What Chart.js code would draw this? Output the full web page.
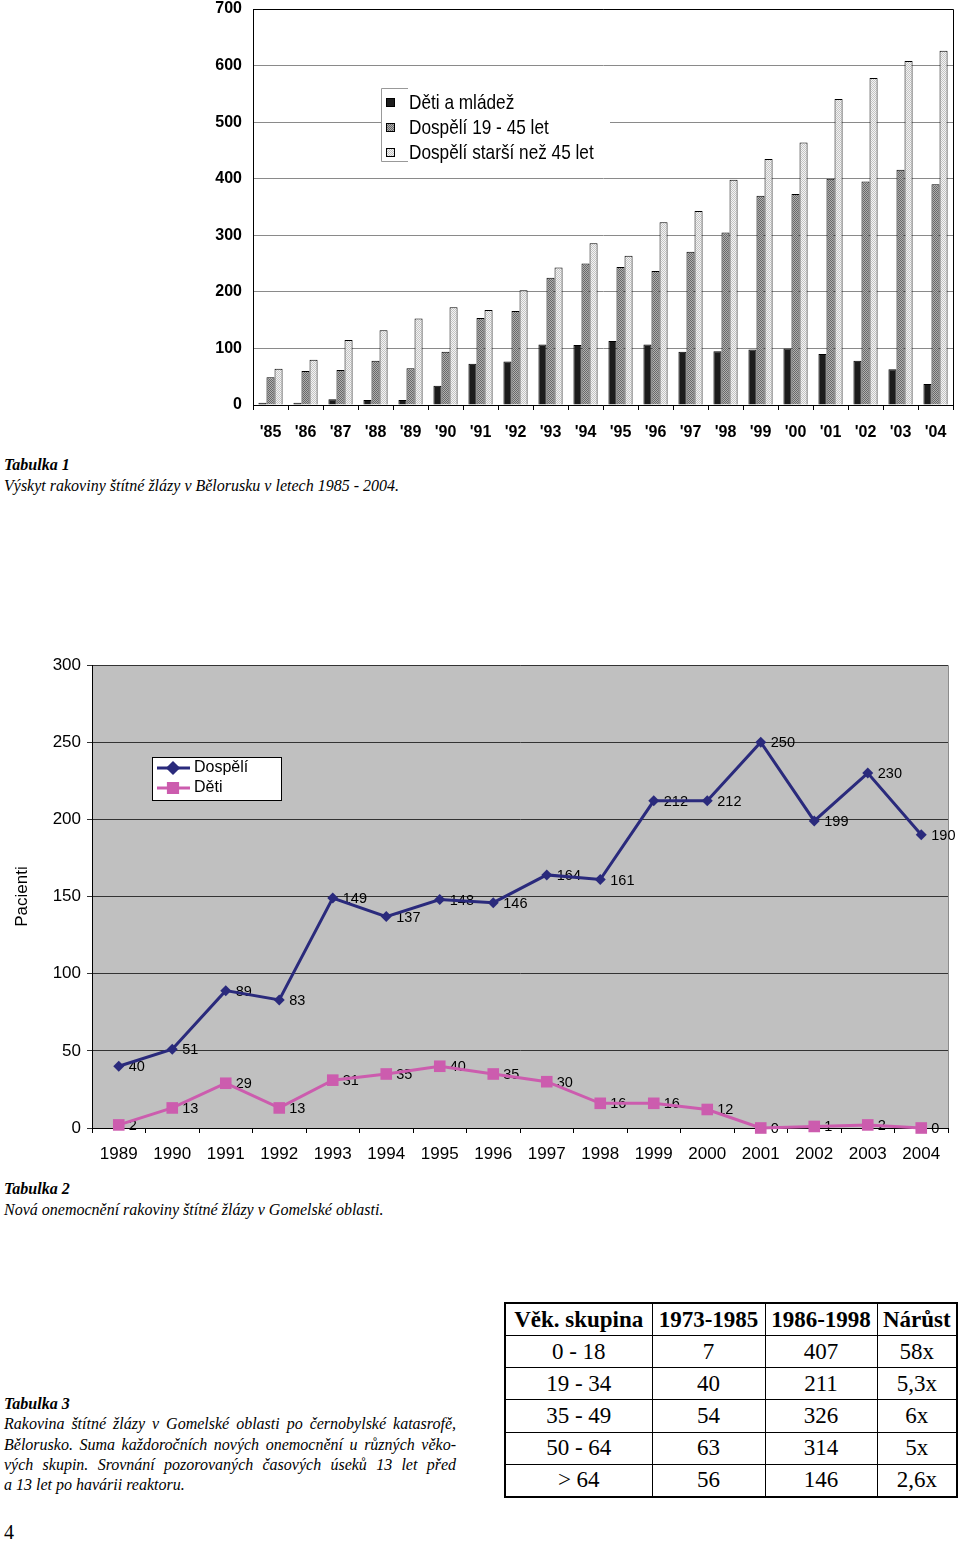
<!DOCTYPE html>
<html>
<head>
<meta charset="utf-8">
<script src="https://cdn.jsdelivr.net/npm/chart.js@4.4.1/dist/chart.umd.min.js"></script>
<style>
body { margin: 0; width: 960px; height: 1545px; position: relative; background: #fff; font-family: "Liberation Serif", serif; color: #000; overflow: hidden; }
canvas { position: absolute; left: 0; }
#chart1 { top: -10px; }
#chart2 { top: 650px; }
.cap { position: absolute; left: 4px; font-size: 16px; font-style: italic; line-height: 20.5px; }
.cap b { font-weight: bold; }
.just { width: 452px; text-align: justify; text-align-last: justify; }
#tab3 { position: absolute; left: 504px; top: 1302px; width: 452px; height: 196px; border-collapse: collapse; table-layout: fixed; border: 2px solid #000; font-size: 23px; }
#tab3 td, #tab3 th { border: 1.5px solid #000; text-align: center; padding: 0; line-height: 28px; }
#tab3 th { font-weight: bold; }
.page { position: absolute; left: 4px; top: 1521px; font-size: 20px; }
</style>
</head>
<body>
<canvas id="chart1" width="960" height="460"></canvas>
<canvas id="chart2" width="960" height="520"></canvas>

<div class="cap" style="top:455px"><b>Tabulka 1</b><br>Výskyt rakoviny štítné žlázy v Bělorusku v letech 1985 - 2004.</div>
<div class="cap" style="top:1179px"><b>Tabulka 2</b><br>Nová onemocnění rakoviny štítné žlázy v Gomelské oblasti.</div>
<div class="cap" style="top:1394px;line-height:20.3px">
  <b>Tabulka 3</b>
  <div class="just">Rakovina štítné žlázy v Gomelské oblasti po černobylské katasrofě,</div>
  <div class="just">Bělorusko. Suma každoročních nových onemocnění u různých věko-</div>
  <div class="just">vých skupin. Srovnání pozorovaných časových úseků 13 let před</div>
  <div>a 13 let po havárii reaktoru.</div>
</div>
<table id="tab3"></table>
<div class="page">4</div>

<script>
// Tabulka 1
const years1 = ["'85", "'86", "'87", "'88", "'89", "'90", "'91", "'92", "'93", "'94",
  "'95", "'96", "'97", "'98", "'99", "'00", "'01", "'02", "'03", "'04"];
const detiMladez = [4, 4, 10, 9, 9, 34, 73, 77, 107, 106, 113, 107, 94, 95, 98, 100, 90, 78, 63, 37];
const dospeli1945 = [49, 60, 62, 78, 65, 94, 154, 166, 225, 250, 244, 237, 271, 305, 370, 373, 400, 395, 416, 390];
const dospeliNad45 = [64, 80, 115, 132, 153, 173, 168, 203, 243, 286, 264, 323, 343, 398, 435, 464, 541, 578, 608, 626];
const labels1 = ['Děti a mládež', 'Dospělí 19 - 45 let', 'Dospělí starší než 45 let'];

// Tabulka 2
const years2 = ['1989', '1990', '1991', '1992', '1993', '1994', '1995', '1996',
  '1997', '1998', '1999', '2000', '2001', '2002', '2003', '2004'];
const dospeli = [40, 51, 89, 83, 149, 137, 148, 146, 164, 161, 212, 212, 250, 199, 230, 190];
const deti = [2, 13, 29, 13, 31, 35, 40, 35, 30, 16, 16, 12, 0, 1, 2, 0];

// Tabulka 3
const tableHead = ['Věk. skupina', '1973-1985', '1986-1998', 'Nárůst'];
const ageGroups = ['0 - 18', '19 - 34', '35 - 49', '50 - 64', '> 64'];
const before = [7, 40, 54, 63, 56];
const after = [407, 211, 326, 314, 146];
const growth = ['58x', '5,3x', '6x', '5x', '2,6x'];

// table
const tab = document.getElementById('tab3');
let html = '<colgroup><col style="width:147px"><col style="width:113px"><col style="width:112px"><col style="width:80px"></colgroup>';
html += '<tr>' + tableHead.map(h => '<th>' + h + '</th>').join('') + '</tr>';
ageGroups.forEach((g, i) => {
  html += '<tr><td>' + g.replace('>', '&gt;') + '</td><td>' + before[i] + '</td><td>' + after[i] + '</td><td>' + growth[i] + '</td></tr>';
});
tab.innerHTML = html;

// dotted fills for the bars
function dots(base, dot) {
  const c = document.createElement('canvas');
  c.width = 2; c.height = 2;
  const x = c.getContext('2d');
  x.fillStyle = base; x.fillRect(0, 0, 2, 2);
  x.fillStyle = dot; x.fillRect(0, 0, 1, 1); x.fillRect(1, 1, 1, 1);
  return x.createPattern(c, 'repeat');
}
const fill1 = ['#1c1c1c', dots('#b0b0b0', '#686868'), dots('#f4f4f4', '#c4c4c4')];

const frame1 = {
  id: 'frame1',
  afterDraw(chart) {
    const { ctx, chartArea: a } = chart;
    ctx.save();
    ctx.strokeStyle = '#000';
    ctx.lineWidth = 1;
    ctx.beginPath();
    ctx.moveTo(a.left, a.top + 0.5); ctx.lineTo(a.right + 0.5, a.top + 0.5); ctx.lineTo(a.right + 0.5, a.bottom);
    ctx.stroke();
    ctx.restore();
  }
};

const legend1 = {
  id: 'legend1',
  beforeDatasetsDraw(chart) {
    const { ctx, chartArea: a } = chart;
    const x = a.left + 128, y = a.top + 79;
    ctx.save();
    ctx.fillStyle = '#fff';
    ctx.fillRect(x, y, 229, 74);
    ctx.strokeStyle = '#999';
    ctx.lineWidth = 1;
    ctx.beginPath();
    ctx.moveTo(x + 27, y + 0.5); ctx.lineTo(x + 0.5, y + 0.5); ctx.lineTo(x + 0.5, y + 73.5); ctx.lineTo(x + 27, y + 73.5);
    ctx.stroke();
    ctx.font = '21px "Liberation Sans", sans-serif';
    ctx.textBaseline = 'middle';
    chart.data.datasets.forEach((ds, i) => {
      const cy = y + 15 + i * 25;
      ctx.fillStyle = ds.backgroundColor;
      ctx.fillRect(x + 5, cy - 5, 9, 9);
      ctx.strokeStyle = '#000';
      ctx.strokeRect(x + 5.5, cy - 4.5, 8, 8);
      // narrow type, as in the original
      ctx.save();
      ctx.translate(x + 28, cy);
      ctx.scale(0.82, 1);
      ctx.fillStyle = '#000';
      ctx.fillText(ds.label, 0, 0);
      ctx.restore();
    });
    ctx.restore();
  }
};

new Chart(document.getElementById('chart1'), {
  type: 'bar',
  data: {
    labels: years1,
    datasets: [
      { label: labels1[0], data: detiMladez, backgroundColor: fill1[0], borderColor: '#000', borderWidth: 1 },
      { label: labels1[1], data: dospeli1945, backgroundColor: fill1[1], borderColor: '#000', borderWidth: 1 },
      { label: labels1[2], data: dospeliNad45, backgroundColor: fill1[2], borderColor: '#000', borderWidth: 1 },
    ],
  },
  options: {
    responsive: false,
    animation: false,
    layout: { padding: { top: 0, right: 7, left: 0, bottom: 0 } },
    datasets: { bar: { barPercentage: 1, categoryPercentage: 0.69 } },
    plugins: { legend: { display: false }, tooltip: { enabled: false } },
    scales: {
      x: {
        afterFit(s) { s.height = 45; },
        grid: { offset: true, drawOnChartArea: false, color: '#000', tickLength: 5 },
        border: { color: '#000' },
        ticks: { autoSkip: false, maxRotation: 0, padding: 13, color: '#000',
          font: { family: 'Liberation Sans', size: 16, weight: 'bold' } },
      },
      y: {
        min: 0, max: 700,
        afterFit(s) { s.width = 253; },
        grid: { color: '#8a8a8a', drawTicks: false },
        border: { color: '#000' },
        ticks: { stepSize: 100, padding: 11, color: '#000',
          font: { family: 'Liberation Sans', size: 16, weight: 'bold', lineHeight: 1 } },
      },
    },
  },
  plugins: [legend1, frame1],
});

// chart 2
const plotBg = {
  id: 'plotBg',
  beforeDraw(chart) {
    const { ctx, chartArea: a } = chart;
    ctx.save();
    ctx.fillStyle = '#c0c0c0';
    ctx.fillRect(a.left, a.top, a.right - a.left, a.bottom - a.top);
    ctx.strokeStyle = '#8c8c8c';
    ctx.lineWidth = 1;
    ctx.beginPath();
    ctx.moveTo(a.left, a.top + 0.5); ctx.lineTo(a.right + 0.5, a.top + 0.5); ctx.lineTo(a.right + 0.5, a.bottom);
    ctx.stroke();
    ctx.restore();
  }
};

const pointLabels = {
  id: 'pointLabels',
  beforeDatasetsDraw(chart) {
    const ctx = chart.ctx;
    ctx.save();
    ctx.font = '14.5px "Liberation Sans", sans-serif';
    ctx.fillStyle = '#000';
    ctx.textBaseline = 'middle';
    chart.data.datasets.forEach((ds, i) => {
      chart.getDatasetMeta(i).data.forEach((pt, j) => {
        ctx.fillText(ds.data[j], pt.x + 10, pt.y + 1);
      });
    });
    ctx.restore();
  }
};

const legend2 = {
  id: 'legend2',
  afterDraw(chart) {
    const { ctx, chartArea: a } = chart;
    const x = a.left + 60, y = a.top + 92;
    ctx.save();
    ctx.fillStyle = '#fff';
    ctx.fillRect(x, y, 130, 44);
    ctx.strokeStyle = '#000';
    ctx.lineWidth = 1;
    ctx.strokeRect(x + 0.5, y + 0.5, 129, 43);
    ctx.font = '16px "Liberation Sans", sans-serif';
    ctx.textBaseline = 'middle';
    chart.data.datasets.forEach((ds, i) => {
      const cy = y + 11 + i * 20;
      ctx.strokeStyle = ds.borderColor;
      ctx.lineWidth = 3;
      ctx.beginPath(); ctx.moveTo(x + 5, cy); ctx.lineTo(x + 38, cy); ctx.stroke();
      Chart.helpers.drawPoint(ctx, { pointStyle: ds.pointStyle, radius: i === 0 ? 5 : 6.5, borderWidth: 1 }, x + 21, cy);
      ctx.fillStyle = ds.borderColor;
      ctx.fill();
      ctx.fillStyle = '#000';
      ctx.fillText(ds.label, x + 42, cy);
    });
    ctx.restore();
  }
};

new Chart(document.getElementById('chart2'), {
  type: 'line',
  data: {
    labels: years2,
    datasets: [
      { label: 'Dospělí', data: dospeli, borderColor: '#2a2a7c', backgroundColor: '#2a2a7c',
        borderWidth: 3, pointStyle: 'rectRot', pointRadius: 5.5, pointBorderWidth: 0, tension: 0 },
      { label: 'Děti', data: deti, borderColor: '#cc5cae', backgroundColor: '#cc5cae',
        borderWidth: 3, pointStyle: 'rect', pointRadius: 8.2, pointBorderWidth: 0, tension: 0 },
    ],
  },
  options: {
    responsive: false,
    animation: false,
    clip: false,
    layout: { padding: { top: 15, right: 12, left: 0, bottom: 0 } },
    plugins: { legend: { display: false }, tooltip: { enabled: false } },
    scales: {
      x: {
        offset: true,
        afterFit(s) { s.height = 42; },
        grid: { offset: true, drawOnChartArea: false, color: '#000', tickLength: 5 },
        border: { color: '#000' },
        ticks: { autoSkip: false, maxRotation: 0, padding: 11, color: '#000',
          font: { family: 'Liberation Sans', size: 17 } },
      },
      y: {
        min: 0, max: 300,
        afterFit(s) { s.width = 92; },
        grid: { color: '#333', tickLength: 5 },
        border: { color: '#000' },
        title: { display: true, text: 'Pacienti', color: '#000', padding: { top: 12 },
          font: { family: 'Liberation Sans', size: 17 } },
        ticks: { stepSize: 50, padding: 6, color: '#000',
          font: { family: 'Liberation Sans', size: 17, lineHeight: 1 } },
      },
    },
  },
  plugins: [plotBg, pointLabels, legend2],
});
</script>
</body>
</html>
